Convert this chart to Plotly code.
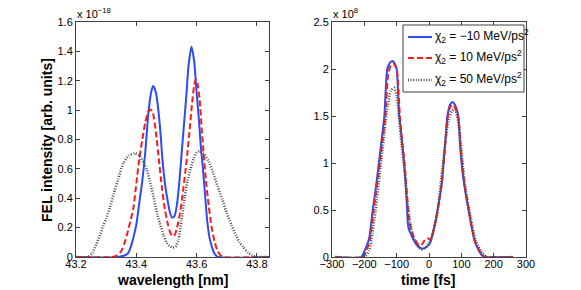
import plotly.graph_objects as go

# ---------------- data: spectrum (left) ----------------
wl_blue = [43.20, 43.34, 43.37, 43.38, 43.39, 43.40, 43.41, 43.42, 43.43, 43.44, 43.45, 43.456,
           43.465, 43.473, 43.48, 43.486, 43.495, 43.505, 43.512, 43.519, 43.527, 43.535, 43.543,
           43.552, 43.560, 43.566, 43.573, 43.583, 43.592, 43.600, 43.607, 43.614, 43.621, 43.628,
           43.635, 43.643, 43.652, 43.66, 43.67, 43.84]
int_blue = [0, 0, 0.02, 0.06, 0.13, 0.22, 0.37, 0.52, 0.72, 0.98, 1.13, 1.164,
            1.12, 1.0, 0.85, 0.68, 0.5, 0.37, 0.3, 0.268, 0.28, 0.36, 0.52,
            0.75, 0.95, 1.1, 1.3, 1.432, 1.33, 1.12, 0.95, 0.75, 0.6, 0.42,
            0.25, 0.13, 0.06, 0.02, 0.0, 0]

wl_red = [43.20, 43.32, 43.335, 43.35, 43.36, 43.37, 43.38, 43.39, 43.40, 43.41, 43.42, 43.43,
          43.44, 43.447, 43.455, 43.465, 43.475, 43.485, 43.495, 43.505, 43.512, 43.519, 43.527,
          43.535, 43.545, 43.555, 43.562, 43.569, 43.577, 43.585, 43.592, 43.597, 43.603, 43.61,
          43.617, 43.624, 43.632, 43.64, 43.65, 43.66, 43.67, 43.68, 43.69, 43.84]
int_red = [0, 0, 0.01, 0.04, 0.09, 0.16, 0.24, 0.33, 0.5, 0.67, 0.8, 0.92,
           0.99, 1.005, 0.98, 0.85, 0.66, 0.47, 0.32, 0.22, 0.17, 0.143, 0.15,
           0.2, 0.3, 0.45, 0.57, 0.70, 0.87, 1.05, 1.17, 1.21, 1.18, 1.07,
           0.87, 0.68, 0.5, 0.35, 0.2, 0.1, 0.04, 0.01, 0, 0]

wl_black = [43.20, 43.24, 43.255, 43.268, 43.28, 43.29, 43.30, 43.313, 43.325, 43.34, 43.357,
            43.375, 43.395, 43.41, 43.425, 43.435, 43.445, 43.46, 43.47, 43.478, 43.49, 43.50,
            43.51, 43.52, 43.53, 43.54, 43.55, 43.561, 43.57, 43.58, 43.59, 43.60, 43.61, 43.625,
            43.64, 43.655, 43.67, 43.685, 43.70, 43.715, 43.73, 43.742, 43.754, 43.77, 43.785,
            43.80, 43.84]
int_black = [0, 0, 0.03, 0.09, 0.15, 0.21, 0.26, 0.34, 0.43, 0.53, 0.64,
             0.69, 0.706, 0.69, 0.64, 0.59, 0.52, 0.38, 0.29, 0.23, 0.15, 0.1,
             0.075, 0.065, 0.07, 0.12, 0.25, 0.41, 0.52, 0.6, 0.67, 0.71, 0.72, 0.7,
             0.65, 0.57, 0.48, 0.39, 0.3, 0.22, 0.15, 0.1, 0.07, 0.03, 0.01,
             0, 0]

# ---------------- data: temporal profile (right) ----------------
t_blue = [-290, -210, -195, -185, -174, -165, -155, -143, -138, -129, -120, -112, -105, -100,
          -92, -87, -77, -69, -64, -50, -38, -23, -10, 3, 15, 24, 39, 49.5, 57, 65, 72, 80,
          90.6, 96, 106, 127, 142, 163, 175, 260]
p_blue = [0, 0, 0.1, 0.2, 0.5, 0.72, 1.0, 1.35, 1.5, 2.0, 2.07, 2.085, 2.05, 2.0,
          1.5, 1.35, 1.0, 0.59, 0.32, 0.2, 0.13, 0.09, 0.1, 0.145, 0.3, 0.45, 0.77, 1.19, 1.5, 1.62, 1.65, 1.62,
          1.5, 1.19, 0.84, 0.41, 0.16, 0.02, 0, 0]

t_red = [-290, -205, -192, -182, -171, -152, -140, -135, -126, -118, -110, -103, -98, -90, -85,
         -75, -67, -60, -48, -35, -25, -15, -5, 5, 15, 25, 40, 50, 58, 66, 74, 82, 92, 98, 108,
         128, 143, 165, 178, 260]
p_red = [0, 0, 0.08, 0.2, 0.5, 1.0, 1.35, 1.5, 1.95, 2.04, 2.06, 2.02, 1.95, 1.5, 1.3,
         0.98, 0.6, 0.36, 0.22, 0.14, 0.12, 0.17, 0.2, 0.18, 0.3, 0.47, 0.8, 1.2, 1.5, 1.6, 1.62, 1.58, 1.45, 1.15, 0.82,
         0.4, 0.16, 0.02, 0, 0]

t_black = [-290, -200, -185, -175, -165, -150, -137, -128, -118, -108, -100, -92, -85, -75, -66,
           -55, -40, -25, -12, 0, 12, 25, 40, 50, 60, 70, 80, 90, 100, 110, 130, 145, 165, 180, 260]
p_black = [0, 0, 0.07, 0.25, 0.5, 0.95, 1.35, 1.6, 1.77, 1.8, 1.72, 1.45, 1.2, 0.9, 0.58,
           0.3, 0.14, 0.08, 0.1, 0.15, 0.25, 0.45, 0.9, 1.2, 1.45, 1.55, 1.57, 1.45, 1.15, 0.8, 0.4, 0.17, 0.04, 0, 0]

series_names = ["χ<sub>2</sub> = −10 MeV/ps<sup>2</sup>",
                "χ<sub>2</sub> = 10 MeV/ps<sup>2</sup>",
                "χ<sub>2</sub> = 50 MeV/ps<sup>2</sup>"]

# ticks
wl_tickvals = [43.2, 43.4, 43.6, 43.8]
wl_ticktext = ["43.2", "43.4", "43.6", "43.8"]
int_tickvals = [0, 0.2, 0.4, 0.6, 0.8, 1.0, 1.2, 1.4, 1.6]
int_ticktext = ["0", "0.2", "0.4", "0.6", "0.8", "1", "1.2", "1.4", "1.6"]
t_tickvals = [-300, -200, -100, 0, 100, 200, 300]
t_ticktext = ["−300", "−200", "−100", "0", "100", "200", "300"]
p_tickvals = [0, 0.5, 1, 1.5, 2, 2.5]
p_ticktext = ["0", "0.5", "1", "1.5", "2", "2.5"]

# ---------------- styles ----------------
BLUE = "#2b4cf5"
RED = "#ff1a1a"
BLACK = "#505050"
FONT = "Liberation Sans, Arial, Helvetica, sans-serif"
W, H = 581, 290

fig = go.Figure()
styles = [dict(color=BLUE, width=2, dash="solid"),
          dict(color=RED, width=2, dash="6px,3px"),
          dict(color=BLACK, width=2.6, dash="1px,1.6px")]

for (x, y), st in zip([(wl_blue, int_blue), (wl_red, int_red), (wl_black, int_black)], styles):
    fig.add_trace(go.Scatter(x=x, y=y, mode="lines", line=dict(shape="spline", smoothing=0.6, **st),
                             xaxis="x", yaxis="y", showlegend=False, hoverinfo="skip"))

for (x, y), st, nm in zip([(t_blue, p_blue), (t_red, p_red), (t_black, p_black)], styles, series_names):
    fig.add_trace(go.Scatter(x=x, y=y, mode="lines", name=nm,
                             line=dict(shape="spline", smoothing=0.6, **st),
                             xaxis="x2", yaxis="y2", showlegend=False, hoverinfo="skip"))

def px2fx(px):
    return px / W

def py2fy(py):
    return 1 - py / H

ax_common = dict(showline=True, linecolor="#404040", linewidth=1, mirror="ticks",
                 ticks="inside", ticklen=4, tickcolor="#404040", tickwidth=1,
                 showgrid=False, zeroline=False, automargin=False,
                 tickfont=dict(family=FONT, size=11, color="black"))

fig.update_layout(
    width=W, height=H, margin=dict(l=0, r=0, t=0, b=0, autoexpand=False),
    paper_bgcolor="white", plot_bgcolor="white",
    font=dict(family=FONT, size=11, color="black"),
    showlegend=False,
    xaxis=dict(domain=[px2fx(76), px2fx(269)], range=[43.2, 43.84], anchor="y",
               tickvals=wl_tickvals, ticktext=wl_ticktext, ticklabelstandoff=-3, **ax_common),
    yaxis=dict(domain=[py2fy(257), py2fy(22)], range=[0, 1.6], anchor="x",
               tickvals=int_tickvals, ticktext=int_ticktext, **ax_common),
    xaxis2=dict(domain=[px2fx(332), px2fx(526)], range=[-300, 300], anchor="y2",
                tickvals=t_tickvals, ticktext=t_ticktext, ticklabelstandoff=-3, **ax_common),
    yaxis2=dict(domain=[py2fy(257), py2fy(22)], range=[0, 2.5], anchor="x2",
                tickvals=p_tickvals, ticktext=p_ticktext, **ax_common),
)

# ---- legend box (drawn in paper coordinates, matching the original's compact legend) ----
fig.add_shape(type="rect", xref="paper", yref="paper",
              x0=px2fx(403), x1=px2fx(524), y0=py2fy(92), y1=py2fy(25),
              fillcolor="white", line=dict(color="#404040", width=1), layer="above")
row_y = [37, 58, 80]
for ry, st, nm in zip(row_y, styles, series_names):
    fig.add_shape(type="line", xref="paper", yref="paper",
                  x0=px2fx(408), x1=px2fx(432), y0=py2fy(ry), y1=py2fy(ry),
                  line=dict(color=st["color"], width=st["width"], dash=st["dash"]), layer="above")
    fig.add_annotation(xref="paper", yref="paper", x=px2fx(433), y=py2fy(ry - 1),
                       xanchor="left", yanchor="middle", showarrow=False, text=nm,
                       font=dict(family=FONT, size=12, color="black"))

annots = [
    dict(text="<b>wavelength [nm]</b>", x=px2fx(172), y=py2fy(280), font=dict(size=14)),
    dict(text="<b>time [fs]</b>", x=px2fx(428), y=py2fy(280), font=dict(size=14)),
    dict(text="<b>FEL intensity [arb. units]</b>", x=px2fx(47), y=py2fy(140), font=dict(size=14), textangle=-90),
    dict(text="x 10<sup>−18</sup>", x=px2fx(75), y=py2fy(13), font=dict(size=11), xanchor="left"),
    dict(text="x 10<sup>8</sup>", x=px2fx(331), y=py2fy(13), font=dict(size=11), xanchor="left"),
]
for a in annots:
    a.setdefault("xanchor", "center")
    fig.add_annotation(xref="paper", yref="paper", showarrow=False, yanchor="middle",
                       **{k: v for k, v in a.items() if k != "font"},
                       font=dict(family=FONT, color="black", **a["font"]))

fig.write_html("out.html", config={"displayModeBar": False},
               post_script="document.body.style.margin='0';document.body.style.padding='0';")
